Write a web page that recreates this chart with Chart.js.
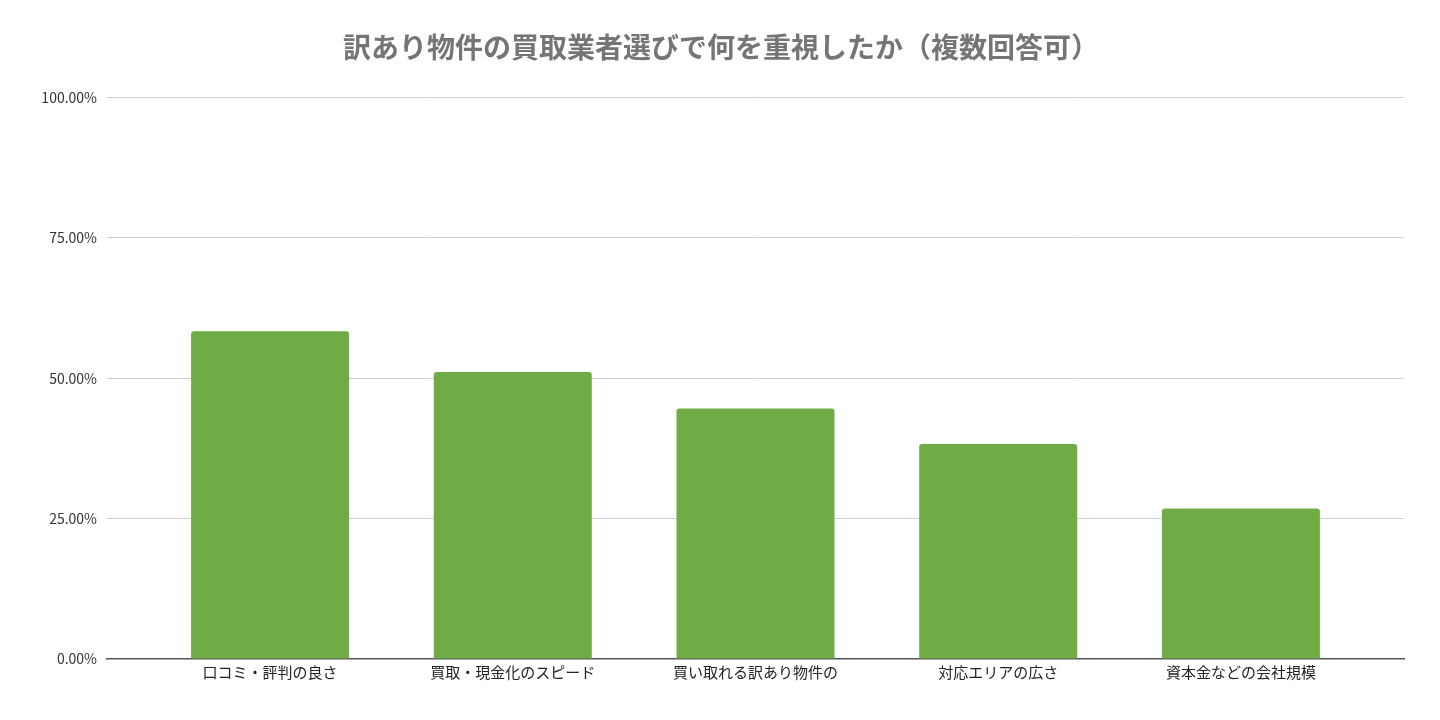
<!DOCTYPE html>
<html lang="ja">
<head>
<meta charset="utf-8">
<script src="https://cdn.jsdelivr.net/npm/chart.js@4"></script>
<style>
  html, body { margin: 0; padding: 0; background: #fff; }
  #wrap { width: 1440px; height: 720px; }
</style>
</head>
<body>
<div id="wrap"><canvas id="chart"></canvas></div>
<script>
const TITLE = "訳あり物件の買取業者選びで何を重視したか（複数回答可）";
const categories = [
  "口コミ・評判の良さ",
  "買取・現金化のスピード",
  "買い取れる訳あり物件の",
  "対応エリアの広さ",
  "資本金などの会社規模"
];
const shares = [58.4, 51.1, 44.6, 38.3, 26.8];
const yTicks = [0, 25, 50, 75, 100];

const FONT = "'Noto Sans CJK JP', 'Noto Sans', sans-serif";

new Chart(document.getElementById("chart"), {
  type: "bar",
  data: {
    datasets: [
      {
        data: shares.map((v, i) => ({ x: i, y: v })),
        backgroundColor: "#6fac46",
        borderRadius: 3,
        borderSkipped: "bottom",
        barPercentage: 0.651,
        categoryPercentage: 1,
      },
    ],
  },
  options: {
    responsive: true,
    maintainAspectRatio: false,
    animation: false,
    layout: { padding: { left: 38, right: 36, top: 0, bottom: 35 } },
    plugins: {
      legend: { display: false },
      tooltip: { enabled: false },
      title: {
        display: true,
        text: TITLE,
        color: "#757575",
        font: { family: FONT, size: 28, weight: "bold" },
        padding: { top: 31, bottom: 33 },
      },
    },
    scales: {
      x: {
        type: "linear",
        min: -0.672,
        max: 4.672,
        offset: false,
        grid: { display: false, drawTicks: false, offset: false },
        border: { display: true, color: "#555", width: 1.5 },
        afterBuildTicks(scale) {
          scale.ticks = categories.map((_, i) => ({ value: i }));
        },
        ticks: {
          padding: 4,
          color: "#222",
          font: { family: FONT, size: 15 },
          maxRotation: 0,
          autoSkip: false,
          callback: (v) => categories[v] ?? "",
        },
      },
      y: {
        min: 0,
        max: 100,
        afterBuildTicks(scale) {
          scale.ticks = yTicks.map((v) => ({ value: v }));
        },
        afterFit(scale) {
          scale.width = 69;
        },
        grid: {
          drawTicks: false,
          color: (ctx) => (ctx.tick && ctx.tick.value === 0 ? "rgba(0,0,0,0)" : "#d0d0d0"),
          lineWidth: 1,
        },
        border: { display: false },
        ticks: {
          padding: 10,
          color: "#333",
          font: { family: FONT, size: 14 },
          callback: (v) => v.toFixed(2) + "%",
        },
      },
    },
  },
});
</script>
</body>
</html>
